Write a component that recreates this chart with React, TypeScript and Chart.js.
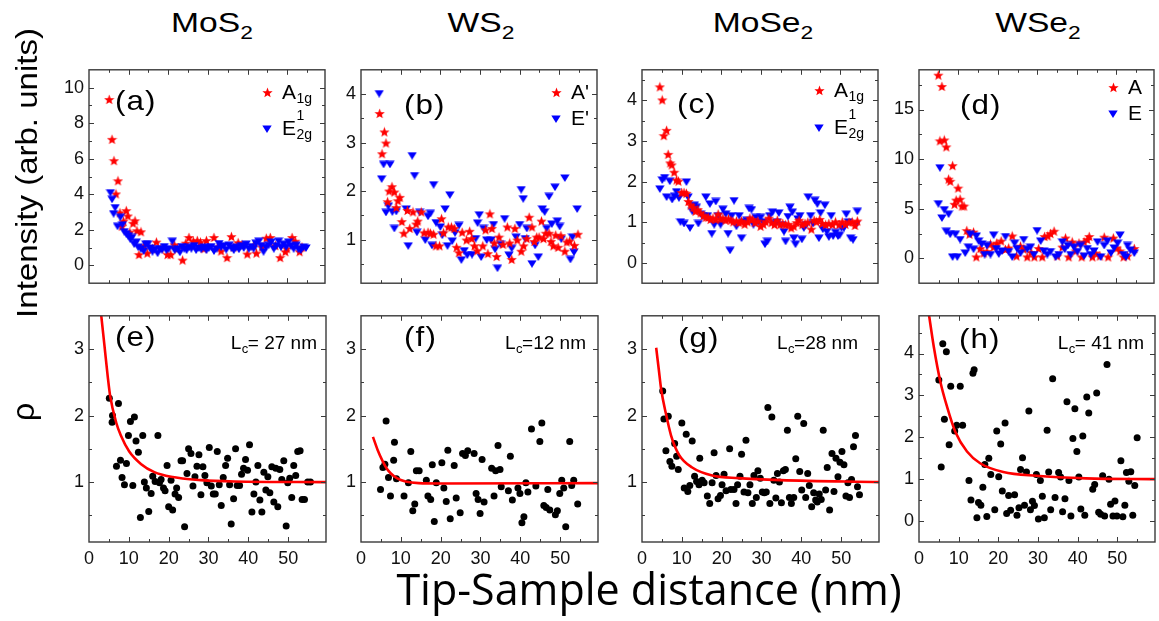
import { useEffect, useRef } from "react";
import { Chart, registerables } from "chart.js";

Chart.register(...registerables);

const FONT = '"Liberation Sans", Arial, Helvetica, sans-serif';

// ---------------- axis ticks ----------------
const X_TICKS = [0, 10, 20, 30, 40, 50];
const X_MINOR = [5, 15, 25, 35, 45, 55];
const X_MIN = 0;
const X_MAX = 59.5;

const MOS2_Y_TICKS = [0, 2, 4, 6, 8, 10];
const MOS2_Y_MINOR = [1, 3, 5, 7, 9];
const WS2_Y_TICKS = [1, 2, 3, 4];
const WS2_Y_MINOR = [0.5, 1.5, 2.5, 3.5];
const MOSE2_Y_TICKS = [0, 1, 2, 3, 4];
const MOSE2_Y_MINOR = [0.5, 1.5, 2.5, 3.5, 4.5];
const WSE2_Y_TICKS = [0, 5, 10, 15];
const WSE2_Y_MINOR = [2.5, 7.5, 12.5, 17.5];
const RHO_Y_TICKS = [1, 2, 3];
const RHO_Y_MINOR = [0.5, 1.5, 2.5];
const RHO_H_Y_TICKS = [0, 1, 2, 3, 4];
const RHO_H_Y_MINOR = [0.5, 1.5, 2.5, 3.5, 4.5];

// ---------------- data (x = tip-sample distance nm, y = value) ----------------
const MOS2_A1G = [[5.1,9.33],[5.8,7.09],[6.3,5.89],[6.8,4.02],[7.3,4.76],[7.8,2.96],[8.3,2.2],[8.7,2.49],[9.4,3.08],[9.8,2.78],[10.3,1.87],[11.1,2.37],[11.6,2.51],[12.1,1.95],[12.6,0.61],[13.1,1.89],[13.9,1.11],[14.7,0.69],[16.0,0.94],[17.0,1.31],[18.1,0.94],[19.8,0.61],[20.6,0.61],[21.5,1.16],[22.3,0.94],[23.6,0.3],[24.4,1.25],[25.2,1.57],[26.3,1.36],[27.3,1.4],[28.1,1.31],[29.0,0.94],[29.6,1.4],[31.5,1.57],[32.4,1.03],[33.3,0.81],[34.8,0.44],[35.9,1.62],[36.5,1.03],[37.6,1.28],[38.6,1.16],[39.9,0.64],[41.5,1.11],[42.2,0.69],[43.6,1.03],[44.7,1.53],[45.7,1.57],[47.0,1.11],[48.2,0.44],[49.5,0.77],[49.9,0.94],[51.2,1.57],[52.0,1.36],[53.1,0.77],[53.7,1.03]];
const MOS2_E2G = [[5.4,4.09],[5.8,3.72],[6.2,2.91],[6.6,3.25],[7.2,2.2],[7.9,2.71],[8.4,2.29],[8.9,1.9],[9.4,1.78],[9.9,1.67],[10.4,1.48],[10.8,1.57],[11.4,1.2],[11.9,1.31],[12.4,1.03],[13.1,0.94],[13.8,0.81],[14.3,1.2],[14.8,1.2],[15.4,0.98],[16.0,0.77],[16.6,0.91],[17.3,0.69],[17.8,0.94],[18.4,0.89],[19.0,1.06],[19.5,0.86],[20.1,0.94],[21.0,1.36],[21.6,0.86],[22.3,0.94],[22.9,0.74],[23.4,1.06],[24.0,0.94],[24.6,0.86],[25.2,1.03],[25.8,0.94],[26.5,1.11],[27.0,0.86],[27.7,0.98],[28.3,0.91],[29.0,1.03],[29.6,0.86],[30.2,0.98],[30.8,1.06],[31.5,0.81],[32.2,0.94],[32.8,1.23],[33.3,1.03],[34.0,1.11],[34.6,0.89],[35.3,1.14],[35.9,0.98],[36.5,0.86],[37.1,1.03],[37.8,0.91],[38.4,1.11],[39.0,0.98],[39.6,1.2],[40.3,0.94],[40.9,1.06],[41.5,0.94],[42.1,1.25],[42.8,1.36],[43.4,1.11],[44.0,0.77],[44.6,1.03],[45.3,1.14],[45.9,1.31],[46.6,0.94],[47.2,1.11],[47.8,1.36],[48.4,1.03],[49.1,1.2],[49.7,1.03],[50.3,1.31],[50.9,1.11],[51.6,0.94],[52.2,1.14],[52.8,0.91],[53.4,0.86],[54.1,1.03],[54.7,0.98]];

const WS2_A = [[4.7,3.6],[5.3,2.77],[5.9,3.22],[6.3,2.99],[6.7,1.78],[7.1,2.0],[7.8,2.09],[8.4,1.98],[8.9,1.66],[9.3,1.8],[9.8,1.87],[10.3,1.37],[10.8,1.13],[11.7,1.6],[12.3,1.23],[13.1,1.57],[13.9,1.32],[14.3,1.38],[15.2,1.57],[15.9,1.14],[16.9,1.15],[17.5,1.13],[18.3,1.11],[18.9,0.87],[19.8,0.87],[20.3,1.43],[20.8,1.14],[22.0,1.26],[22.8,1.26],[23.5,1.23],[24.1,0.84],[24.7,0.73],[25.5,1.15],[26.6,0.99],[27.4,1.17],[27.9,1.02],[28.6,0.87],[29.3,0.77],[30.7,0.87],[31.4,1.2],[32.0,0.71],[32.5,1.53],[33.0,1.23],[33.6,0.93],[34.2,0.65],[34.8,1.05],[35.8,0.9],[36.9,1.26],[37.5,0.93],[38.0,0.59],[38.8,1.23],[39.4,0.99],[40.4,0.76],[41.0,0.87],[41.8,1.02],[42.4,1.46],[43.1,1.26],[43.7,0.96],[44.3,1.05],[44.9,1.05],[45.5,1.38],[46.0,1.02],[46.6,1.13],[47.4,1.13],[47.9,0.96],[48.5,0.87],[49.1,1.09],[49.7,0.84],[50.4,1.08],[51.4,0.76],[51.9,0.95],[52.6,0.97],[53.8,0.88],[54.7,1.11]];
const WS2_E = [[4.6,4.01],[5.2,2.25],[5.7,2.55],[6.3,1.56],[6.9,1.69],[7.3,2.55],[7.9,1.57],[8.4,1.23],[8.9,1.58],[11.4,1.63],[11.9,0.87],[12.9,2.73],[13.5,2.32],[14.1,1.15],[14.8,1.56],[16.2,0.99],[16.9,1.48],[17.5,1.54],[17.9,0.88],[18.3,2.13],[18.9,1.35],[20.0,1.26],[20.5,1.09],[21.2,1.63],[21.8,0.87],[22.4,1.92],[23.0,0.97],[23.7,1.14],[24.7,1.29],[25.3,0.58],[26.0,0.77],[26.8,0.68],[28.0,0.69],[28.9,1.02],[29.4,1.34],[29.8,1.51],[30.3,0.64],[30.9,1.23],[31.7,0.99],[32.8,0.99],[33.4,1.31],[33.8,0.8],[34.4,0.41],[35.2,0.9],[36.2,1.43],[37.3,0.68],[38.0,0.82],[39.1,1.05],[40.0,1.31],[40.4,2.03],[40.9,1.84],[41.4,1.02],[41.8,1.23],[43.1,0.5],[43.9,0.88],[44.7,0.64],[45.7,1.63],[46.3,1.57],[46.8,1.23],[47.4,1.89],[48.1,1.32],[48.9,2.08],[49.5,1.38],[50.1,1.27],[50.5,1.01],[51.4,2.27],[52.8,0.59],[53.3,1.05],[53.7,0.74],[54.5,1.63]];

const MOSE2_A1G = [[4.5,4.33],[5.1,4.01],[5.5,3.13],[6.2,3.26],[6.6,2.67],[7.1,2.46],[7.5,2.41],[8.1,2.23],[8.7,2.04],[9.2,2.01],[10.0,1.73],[10.6,1.73],[11.2,1.71],[11.7,1.51],[12.3,1.42],[12.9,1.37],[13.5,1.27],[14.1,1.31],[14.8,1.23],[15.5,1.16],[16.1,1.12],[16.7,1.12],[17.3,1.07],[17.9,1.1],[18.6,1.07],[19.2,1.2],[19.8,1.08],[20.4,1.1],[21.1,1.05],[21.8,1.08],[22.4,1.05],[23.0,1.01],[23.8,1.03],[24.5,0.99],[25.1,1.03],[25.9,0.95],[26.6,1.01],[27.2,1.1],[27.8,1.07],[28.5,0.99],[29.2,1.03],[29.9,0.9],[30.6,0.95],[31.2,1.01],[32.0,1.1],[32.7,0.99],[33.4,0.94],[34.1,1.05],[34.8,0.94],[35.5,0.97],[36.2,0.94],[36.9,0.95],[37.6,0.86],[38.3,0.9],[39.0,0.99],[39.6,1.05],[40.4,0.94],[41.1,0.97],[41.8,1.0],[42.7,0.83],[43.4,1.05],[44.0,1.01],[44.8,1.07],[45.5,0.97],[46.3,0.94],[47.1,0.97],[48.0,0.94],[48.8,1.01],[49.7,0.94],[50.5,1.01],[51.3,0.95],[52.2,1.0],[53.0,1.01],[53.7,0.92],[54.3,1.03]];
const MOSE2_E2G = [[4.5,1.82],[5.1,2.04],[5.7,2.1],[6.2,1.62],[7.0,2.01],[7.6,1.56],[8.2,1.64],[8.7,1.75],[9.3,1.6],[9.7,1.01],[10.6,0.97],[11.2,1.99],[11.6,1.62],[12.1,0.86],[12.7,1.27],[13.2,1.42],[13.7,1.37],[14.2,0.97],[14.8,1.2],[15.4,1.16],[16.1,1.62],[16.5,1.16],[17.1,1.45],[17.6,0.72],[18.2,0.94],[18.6,1.51],[19.2,1.16],[19.8,0.94],[20.4,1.32],[21.1,1.2],[21.7,0.72],[22.2,0.31],[22.6,1.16],[23.2,1.53],[23.8,0.9],[24.5,1.16],[25.1,0.61],[25.7,1.01],[26.4,1.05],[27.0,1.34],[27.6,1.31],[28.1,0.94],[28.7,1.12],[29.3,1.01],[29.9,1.12],[30.5,1.01],[31.0,0.46],[31.6,0.53],[32.2,1.16],[32.9,1.25],[33.4,0.97],[34.0,1.01],[34.5,1.23],[35.2,0.94],[35.8,0.77],[36.2,0.53],[36.8,1.14],[37.3,1.37],[37.9,1.25],[38.3,0.61],[38.7,0.46],[39.3,1.08],[39.8,1.16],[40.3,0.58],[40.8,0.86],[41.4,0.94],[41.9,1.62],[42.5,1.16],[43.1,0.97],[43.6,1.54],[44.2,1.45],[44.6,0.61],[45.0,1.23],[45.6,0.83],[46.1,1.42],[46.6,0.77],[47.1,0.64],[47.7,1.16],[48.2,0.66],[48.8,0.75],[49.4,0.66],[49.8,0.68],[50.3,0.86],[50.9,0.86],[51.5,1.2],[52.0,1.01],[52.6,0.61],[53.2,0.57],[53.9,0.94],[54.3,1.27]];

const WSE2_A = [[4.9,18.46],[5.3,11.84],[5.8,17.32],[6.4,11.93],[6.9,11.23],[7.5,7.98],[7.9,7.77],[8.5,9.34],[9.0,5.45],[9.4,5.87],[9.9,7.08],[10.4,5.96],[10.9,5.27],[11.4,5.27],[12.1,2.8],[12.8,2.44],[13.8,2.65],[14.5,0.15],[15.5,0.99],[16.4,0.54],[17.2,0.69],[18.1,1.45],[18.9,1.14],[19.7,1.54],[20.8,1.75],[21.9,0.9],[22.7,1.05],[23.6,2.26],[24.7,0.24],[25.7,1.23],[26.5,0.93],[27.4,0.15],[28.4,0.6],[29.2,0.15],[30.3,0.99],[31.2,0.15],[31.8,2.2],[32.6,2.26],[33.3,2.5],[34.2,2.74],[35.0,0.24],[36.3,1.14],[37.1,2.05],[37.9,0.15],[38.8,1.66],[39.7,0.75],[40.5,1.54],[41.2,0.15],[41.8,1.66],[42.6,1.9],[43.1,2.2],[43.9,0.15],[44.7,0.54],[45.8,0.24],[46.9,2.14],[47.9,0.15],[49.2,2.05],[50.1,1.05],[50.9,0.75],[51.8,0.15],[52.8,0.24],[54.5,0.99]];
const WSE2_E = [[4.9,5.51],[5.3,9.13],[5.8,4.07],[6.4,4.91],[6.9,2.74],[7.5,4.46],[7.9,2.44],[8.5,0.15],[9.2,2.44],[9.7,0.15],[10.4,1.9],[11.7,0.54],[12.5,1.14],[13.0,2.44],[13.8,0.93],[14.5,2.26],[15.1,1.75],[15.9,1.45],[16.6,0.39],[17.2,1.3],[18.1,0.39],[18.9,2.35],[19.6,0.99],[20.2,0.45],[21.0,0.75],[21.9,2.2],[22.7,0.69],[23.6,0.15],[24.2,1.54],[24.8,0.99],[25.7,0.54],[26.5,1.9],[27.4,0.93],[28.2,1.14],[29.1,0.39],[29.9,2.8],[30.8,1.75],[31.6,0.75],[32.5,0.39],[33.3,0.69],[34.6,0.15],[35.4,0.39],[36.3,1.66],[36.9,0.93],[37.7,1.3],[38.4,0.39],[39.2,1.14],[40.1,0.69],[40.9,1.3],[41.8,0.24],[42.6,0.99],[43.5,0.39],[44.3,0.75],[45.2,1.66],[46.0,0.15],[46.9,1.3],[47.7,1.75],[48.6,0.54],[49.4,1.05],[50.3,1.54],[50.9,2.35],[51.8,0.39],[52.4,0.15],[52.8,1.3],[53.5,0.84],[54.5,0.54]];

const MOS2_RHO = [[5.1,2.26],[5.9,2.0],[5.8,1.9],[7.4,2.18],[6.9,1.24],[7.9,1.33],[8.3,1.07],[8.9,0.96],[9.4,1.28],[9.9,1.7],[10.4,1.91],[11.4,1.98],[11.0,0.95],[11.8,1.62],[12.4,1.45],[12.9,0.47],[13.5,1.7],[13.9,1.0],[14.4,0.91],[15.0,0.56],[15.6,0.83],[16.0,1.09],[16.6,1.01],[17.3,1.7],[17.7,0.99],[18.1,1.04],[18.7,0.91],[19.1,0.87],[19.6,1.25],[20.0,0.63],[20.6,1.03],[21.0,0.58],[21.6,0.82],[22.0,0.91],[22.5,0.77],[23.1,1.32],[23.5,1.32],[24.0,0.33],[24.6,1.13],[25.0,1.5],[25.6,1.43],[26.1,0.94],[26.6,1.08],[27.1,1.24],[27.6,1.41],[28.1,0.81],[28.6,1.23],[29.1,1.1],[29.6,0.99],[30.2,1.52],[30.7,0.94],[31.2,0.82],[31.7,0.82],[32.2,1.46],[32.7,0.96],[33.2,0.65],[33.7,1.07],[34.3,1.25],[34.8,1.36],[35.3,0.96],[35.7,0.37],[36.3,0.75],[36.8,1.5],[37.2,0.95],[37.8,0.95],[38.3,1.12],[38.8,1.21],[39.3,1.34],[39.8,1.18],[40.3,1.56],[40.9,0.55],[41.4,0.82],[41.9,1.0],[42.4,1.25],[42.9,0.73],[43.4,0.55],[43.9,1.15],[44.4,0.88],[44.9,1.08],[45.4,0.84],[45.9,1.23],[46.4,0.7],[46.9,1.21],[47.4,0.63],[47.9,1.19],[48.4,1.04],[48.9,1.32],[49.5,0.34],[49.9,0.99],[50.4,1.06],[50.9,0.77],[51.4,1.25],[51.9,1.1],[52.4,1.46],[53.0,1.47],[53.5,0.74],[54.1,0.74],[54.9,1.0],[55.6,1.0]];
const WS2_RHO = [[4.9,0.89],[5.5,1.22],[6.0,1.27],[6.3,1.92],[6.9,1.07],[7.4,0.79],[8.2,1.33],[8.4,1.6],[8.9,1.05],[10.8,0.79],[11.9,0.99],[12.5,1.46],[13.0,0.57],[13.5,0.67],[13.9,1.17],[14.6,1.17],[16.4,1.03],[16.8,0.79],[17.5,0.74],[17.9,1.26],[18.4,0.41],[18.9,0.99],[20.3,1.29],[20.8,0.91],[21.4,0.71],[21.8,1.48],[22.4,0.45],[23.4,1.25],[23.9,0.76],[24.9,0.54],[25.5,1.43],[26.2,1.4],[26.8,1.47],[28.4,1.43],[28.9,0.83],[29.4,0.74],[29.9,0.53],[30.4,1.34],[30.9,0.7],[32.8,1.21],[33.4,0.79],[33.8,1.17],[34.4,1.55],[34.9,1.19],[35.2,0.93],[37.0,0.87],[37.5,1.39],[38.0,0.73],[39.4,0.91],[39.9,0.83],[40.4,0.39],[40.9,0.48],[41.4,0.99],[41.9,0.85],[42.8,1.8],[43.9,0.94],[44.9,1.61],[45.4,1.89],[45.9,0.65],[46.5,0.62],[46.9,0.89],[47.4,0.58],[48.8,0.51],[49.3,0.57],[49.9,0.83],[50.4,1.03],[50.9,0.91],[51.4,0.33],[52.4,1.61],[52.9,0.95],[53.4,1.03],[54.4,0.67]];
const MOSE2_RHO = [[5.2,2.37],[5.5,1.95],[6.6,1.99],[6.0,1.47],[7.0,1.31],[7.5,1.24],[8.2,1.58],[8.7,1.39],[9.1,1.19],[10.0,1.89],[10.6,0.91],[11.1,1.72],[11.5,0.86],[12.0,0.95],[12.6,1.62],[13.2,1.09],[13.7,1.01],[14.3,0.96],[14.5,1.36],[15.1,1.03],[15.6,0.99],[16.4,0.79],[17.0,0.68],[17.6,0.99],[18.1,1.44],[18.6,1.1],[19.1,0.75],[19.7,0.8],[20.1,0.96],[20.6,1.12],[21.1,0.87],[22.0,1.5],[22.3,0.89],[23.1,0.89],[23.6,0.68],[24.0,0.96],[24.6,1.09],[25.0,1.42],[25.6,0.85],[26.1,1.63],[26.6,0.84],[27.1,0.96],[27.7,0.68],[28.1,1.1],[28.7,0.77],[29.1,1.17],[29.7,1.06],[30.2,0.85],[30.7,0.84],[31.2,0.85],[31.6,2.12],[32.1,0.68],[32.6,1.98],[33.1,1.03],[33.6,0.76],[34.0,1.13],[34.5,1.0],[35.0,0.69],[35.5,1.17],[36.0,1.19],[36.5,1.78],[37.0,0.77],[37.5,0.68],[38.1,0.77],[38.6,1.35],[39.1,1.99],[39.6,1.16],[40.1,0.88],[40.6,1.88],[41.1,0.77],[41.6,1.13],[42.0,0.95],[42.6,0.63],[43.1,0.84],[43.6,0.73],[44.0,0.7],[44.5,0.82],[45.0,0.74],[45.5,1.78],[46.1,0.88],[46.5,1.22],[47.1,0.58],[47.7,1.43],[48.2,0.86],[48.7,1.36],[49.2,1.08],[49.7,1.3],[50.2,1.46],[50.7,1.26],[51.2,0.79],[51.7,0.99],[52.1,0.77],[52.6,1.04],[53.1,1.53],[53.6,1.7],[54.1,0.93],[54.6,0.81]];
const WSE2_RHO = [[5.0,3.37],[5.6,1.29],[6.0,4.23],[6.4,2.43],[6.9,4.04],[7.6,1.82],[8.0,3.22],[9.0,2.15],[9.5,2.29],[10.4,3.22],[11.0,2.29],[12.6,0.97],[13.1,0.5],[13.6,3.53],[13.9,3.61],[14.6,0.08],[15.0,0.44],[15.6,0.38],[16.1,0.81],[16.6,1.35],[17.1,0.11],[17.6,1.5],[18.1,1.11],[19.1,0.27],[19.6,2.15],[20.1,1.06],[20.6,1.84],[21.0,0.72],[21.7,2.34],[22.1,0.18],[22.6,0.61],[23.1,0.26],[24.1,0.63],[24.7,0.14],[25.2,0.32],[25.6,1.23],[26.1,1.51],[26.6,0.38],[27.1,1.17],[27.7,2.63],[28.1,0.27],[28.6,0.47],[29.1,0.37],[29.6,1.11],[30.1,0.05],[30.6,0.97],[31.1,0.59],[31.6,0.08],[32.3,2.17],[32.7,1.17],[33.2,0.27],[33.7,3.4],[34.3,0.56],[35.2,1.16],[35.7,1.05],[36.2,0.22],[36.8,0.53],[37.3,2.85],[37.8,0.97],[38.3,0.12],[38.8,1.97],[39.3,2.68],[39.8,1.66],[40.3,1.05],[40.8,0.29],[41.3,2.03],[41.8,0.14],[42.3,2.96],[42.8,2.58],[43.8,0.76],[44.3,0.87],[44.8,3.06],[45.3,0.21],[45.8,0.16],[46.3,1.08],[46.8,0.12],[47.4,3.74],[47.9,1.0],[48.3,0.4],[48.9,0.12],[49.4,0.48],[49.9,0.12],[50.9,1.44],[51.4,0.1],[51.9,0.38],[52.3,1.16],[52.9,0.95],[53.4,1.18],[53.9,0.14],[54.4,0.85],[55.0,1.99]];

// fitted curves
const MOS2_FIT = [[2.9,3.6],[3.85,3.07],[4.7,2.59],[5.3,2.3],[6.8,1.9],[8.0,1.7],[10.1,1.46],[13.1,1.27],[16.4,1.15],[20.6,1.08],[28.1,1.03],[36.5,1.01],[59.5,1.0]];
const WS2_FIT = [[3.0,1.68],[4.2,1.48],[5.4,1.32],[6.5,1.2],[7.5,1.13],[9.0,1.06],[11.2,1.01],[14.5,0.985],[20.0,0.98],[59.5,0.985]];
const MOSE2_FIT = [[3.56,3.02],[4.2,2.7],[4.8,2.4],[6.0,2.03],[7.3,1.7],[9.3,1.41],[12.6,1.22],[17.6,1.1],[24.2,1.06],[34.8,1.03],[59.5,1.0]];
const WSE2_FIT = [[2.4,5.0],[3.75,4.15],[5.4,3.32],[7.1,2.72],[9.2,2.12],[12.1,1.66],[15.4,1.38],[21.25,1.17],[29.6,1.08],[42.1,1.02],[59.5,1.0]];

// ---------------- layout ----------------
const COL_L = [89, 361, 642, 919];
const COL_R = [327, 599, 880, 1156];
const ROW_T = [58, 304];
const ROW_B = [295, 542];
const PAD_L = 50, PAD_T = 4, PAD_R = 3, PAD_B_BOTTOM = 34, PAD_B_TOP = 4;

type Rich = { main: string; sub?: string; sup?: string; tail?: string };
type Series = { kind: "star" | "tri" | "dot" | "fit"; data: number[][] };
type Panel = {
  id: string; col: number; row: number;
  yMin: number; yMax: number; yTicks: number[]; yMinor: number[];
  series: Series[];
  tag: string; tagDx: number; tagBase: number;
  legend?: { marker: "star" | "tri"; label: Rich }[];
  legDx?: number; legRows?: number[];
  lc?: Rich; lcDx?: number; lcBase?: number;
};

const PANELS: Panel[] = [
  { id: "a", col: 0, row: 0, yMin: -1, yMax: 11, yTicks: MOS2_Y_TICKS, yMinor: MOS2_Y_MINOR,
    series: [{ kind: "tri", data: MOS2_E2G }, { kind: "star", data: MOS2_A1G }],
    tag: "(a)", tagDx: 26, tagBase: 40,
    legend: [{ marker: "star", label: { main: "A", sub: "1g" } }, { marker: "tri", label: { main: "E", sup: "1", sub: "2g" } }],
    legDx: 58, legRows: [29, 65] },
  { id: "b", col: 1, row: 0, yMin: 0.1, yMax: 4.5, yTicks: WS2_Y_TICKS, yMinor: WS2_Y_MINOR,
    series: [{ kind: "star", data: WS2_A }, { kind: "tri", data: WS2_E }],
    tag: "(b)", tagDx: 43, tagBase: 44,
    legend: [{ marker: "star", label: { main: "A'" } }, { marker: "tri", label: { main: "E'" } }],
    legDx: 41, legRows: [29, 55] },
  { id: "c", col: 2, row: 0, yMin: -0.5, yMax: 4.75, yTicks: MOSE2_Y_TICKS, yMinor: MOSE2_Y_MINOR,
    series: [{ kind: "star", data: MOSE2_A1G }, { kind: "tri", data: MOSE2_E2G }],
    tag: "(c)", tagDx: 35, tagBase: 43,
    legend: [{ marker: "star", label: { main: "A", sub: "1g" } }, { marker: "tri", label: { main: "E", sup: "1", sub: "2g" } }],
    legDx: 59, legRows: [27, 64] },
  { id: "d", col: 3, row: 0, yMin: -2.5, yMax: 19, yTicks: WSE2_Y_TICKS, yMinor: WSE2_Y_MINOR,
    series: [{ kind: "tri", data: WSE2_E }, { kind: "star", data: WSE2_A }],
    tag: "(d)", tagDx: 41, tagBase: 44,
    legend: [{ marker: "star", label: { main: "A" } }, { marker: "tri", label: { main: "E" } }],
    legDx: 41, legRows: [24, 50] },
  { id: "e", col: 0, row: 1, yMin: 0.1, yMax: 3.5, yTicks: RHO_Y_TICKS, yMinor: RHO_Y_MINOR,
    series: [{ kind: "fit", data: MOS2_FIT }, { kind: "dot", data: MOS2_RHO }],
    tag: "(e)", tagDx: 26, tagBase: 30, lc: { main: "L", sub: "c", tail: "= 27 nm" }, lcDx: 9, lcBase: 33 },
  { id: "f", col: 1, row: 1, yMin: 0.1, yMax: 3.5, yTicks: RHO_Y_TICKS, yMinor: RHO_Y_MINOR,
    series: [{ kind: "fit", data: WS2_FIT }, { kind: "dot", data: WS2_RHO }],
    tag: "(f)", tagDx: 43, tagBase: 30, lc: { main: "L", sub: "c", tail: "=12 nm" }, lcDx: 12, lcBase: 33 },
  { id: "g", col: 2, row: 1, yMin: 0.1, yMax: 3.5, yTicks: RHO_Y_TICKS, yMinor: RHO_Y_MINOR,
    series: [{ kind: "fit", data: MOSE2_FIT }, { kind: "dot", data: MOSE2_RHO }],
    tag: "(g)", tagDx: 36, tagBase: 31, lc: { main: "L", sub: "c", tail: "=28 nm" }, lcDx: 21, lcBase: 33 },
  { id: "h", col: 3, row: 1, yMin: -0.5, yMax: 4.9, yTicks: RHO_H_Y_TICKS, yMinor: RHO_H_Y_MINOR,
    series: [{ kind: "fit", data: WSE2_FIT }, { kind: "dot", data: WSE2_RHO }],
    tag: "(h)", tagDx: 40, tagBase: 32, lc: { main: "L", sub: "c", tail: "= 41 nm" }, lcDx: 11, lcBase: 33 },
];

const TITLES = [
  { base: "MoS", cx: 212 },
  { base: "WS", cx: 481 },
  { base: "MoSe", cx: 763 },
  { base: "WSe", cx: 1038 },
];

// ---------------- markers ----------------
function makeStar(): HTMLCanvasElement {
  const c = document.createElement("canvas");
  c.width = 11; c.height = 11;
  const g = c.getContext("2d")!;
  g.fillStyle = "#ff0000";
  g.beginPath();
  for (let i = 0; i < 10; i++) {
    const r = i % 2 === 0 ? 5.4 : 2.3;
    const a = -Math.PI / 2 + (i * Math.PI) / 5;
    const px = 5.5 + r * Math.cos(a), py = 6 + r * Math.sin(a);
    if (i === 0) g.moveTo(px, py); else g.lineTo(px, py);
  }
  g.closePath();
  g.fill();
  return c;
}
function makeTri(): HTMLCanvasElement {
  const c = document.createElement("canvas");
  c.width = 10; c.height = 8;
  const g = c.getContext("2d")!;
  g.fillStyle = "#0000ff";
  g.beginPath();
  g.moveTo(0.3, 0.5); g.lineTo(9.7, 0.5); g.lineTo(5, 7.9); g.closePath();
  g.fill();
  return c;
}

function drawRich(ctx: CanvasRenderingContext2D, r: Rich, x: number, y: number, size: number, align: "left" | "right") {
  const small = Math.round(size * 0.68);
  const big = `${size}px ${FONT}`, sm = `${small}px ${FONT}`;
  ctx.font = big;
  const wMain = ctx.measureText(r.main).width;
  const wTail = r.tail ? ctx.measureText(r.tail).width : 0;
  ctx.font = sm;
  const wSub = r.sub ? ctx.measureText(r.sub).width : 0;
  const wSup = r.sup ? ctx.measureText(r.sup).width : 0;
  const wScr = Math.max(wSub, wSup);
  const total = wMain + wScr + wTail;
  const x0 = align === "right" ? x - total : x;
  ctx.textAlign = "left";
  ctx.textBaseline = "alphabetic";
  ctx.font = big;
  ctx.fillText(r.main, x0, y);
  ctx.font = sm;
  if (r.sub) ctx.fillText(r.sub, x0 + wMain + 0.5, y + size * 0.22);
  if (r.sup) ctx.fillText(r.sup, x0 + wMain + 0.5, y - size * 0.72);
  if (r.tail) { ctx.font = big; ctx.fillText(r.tail, x0 + wMain + wScr, y); }
}

function overlayPlugin(p: Panel, star: HTMLCanvasElement, tri: HTMLCanvasElement) {
  return {
    id: "overlay_" + p.id,
    afterDraw(chart: any) {
      const { ctx, chartArea: a, scales } = chart;
      const xs = scales.x, ys = scales.y;
      ctx.save();
      ctx.strokeStyle = "#3a3a3a";
      ctx.lineWidth = 1;
      const xT = (vals: number[], len: number) => {
        for (const v of vals) {
          const px = Math.round(xs.getPixelForValue(v)) + 0.5;
          if (px <= a.left + 1 || px >= a.right - 1) continue;
          ctx.beginPath();
          ctx.moveTo(px, a.bottom); ctx.lineTo(px, a.bottom - len);
          ctx.moveTo(px, a.top); ctx.lineTo(px, a.top + len);
          ctx.stroke();
        }
      };
      const yT = (vals: number[], len: number) => {
        for (const v of vals) {
          const py = Math.round(ys.getPixelForValue(v)) + 0.5;
          if (py <= a.top + 1 || py >= a.bottom - 1) continue;
          ctx.beginPath();
          ctx.moveTo(a.left, py); ctx.lineTo(a.left + len, py);
          ctx.moveTo(a.right, py); ctx.lineTo(a.right - len, py);
          ctx.stroke();
        }
      };
      xT(X_TICKS, 5); xT(X_MINOR, 3);
      yT(p.yTicks, 5); yT(p.yMinor, 3);
      ctx.lineWidth = 1.4;
      ctx.strokeRect(a.left, a.top, a.right - a.left, a.bottom - a.top);

      ctx.fillStyle = "#000";
      ctx.save();
      ctx.font = `28px ${FONT}`;
      ctx.textAlign = "left";
      ctx.textBaseline = "alphabetic";
      ctx.translate(a.left + p.tagDx, a.top + p.tagBase);
      ctx.scale(1.12, 1);
      (ctx as any).letterSpacing = "1px";
      ctx.fillText(p.tag, 0, 0);
      (ctx as any).letterSpacing = "0px";
      ctx.restore();

      if (p.legend && p.legRows && p.legDx !== undefined) {
        p.legend.forEach((item, i) => {
          const base = a.top + p.legRows![i];
          const mx = a.right - p.legDx!;
          const img = item.marker === "star" ? star : tri;
          ctx.drawImage(img, Math.round(mx - img.width / 2), Math.round(base - 6 - img.height / 2));
          drawRich(ctx, item.label, mx + 15, base, 21, "left");
        });
      }
      if (p.lc && p.lcDx !== undefined && p.lcBase !== undefined) {
        drawRich(ctx, p.lc, a.right - p.lcDx, a.top + p.lcBase, 19, "right");
      }
      ctx.restore();
    },
  };
}

function PanelChart({ p }: { p: Panel }) {
  const ref = useRef<HTMLCanvasElement>(null);
  const bottom = p.row === 1;
  const L = COL_L[p.col], R = COL_R[p.col], T = ROW_T[p.row], B = ROW_B[p.row];
  const padB = bottom ? PAD_B_BOTTOM : PAD_B_TOP;
  const w = R - L + PAD_L + PAD_R;
  const h = B - T + PAD_T + padB;

  useEffect(() => {
    if (!ref.current) return;
    const star = makeStar();
    const tri = makeTri();
    const datasets = p.series.map((s) => {
      const data = s.data.map(([x, y]) => ({ x, y }));
      if (s.kind === "fit") {
        return { data, showLine: true, borderColor: "#ff0000", borderWidth: 2.6, pointRadius: 0, fill: false, cubicInterpolationMode: "monotone" as const };
      }
      if (s.kind === "dot") {
        return { data, showLine: false, pointRadius: 3.5, pointBackgroundColor: "#000", pointBorderWidth: 0, pointStyle: "circle" as const };
      }
      return { data, showLine: false, pointRadius: 5, pointBorderWidth: 0, pointStyle: s.kind === "star" ? star : tri };
    });
    const chart = new Chart(ref.current, {
      type: "scatter",
      data: { datasets: datasets as any },
      plugins: [overlayPlugin(p, star, tri)],
      options: {
        animation: false,
        responsive: false,
        events: [],
        layout: { padding: { left: 0, top: PAD_T, right: PAD_R, bottom: bottom ? 0 : PAD_B_TOP } },
        plugins: { legend: { display: false }, tooltip: { enabled: false } },
        scales: {
          x: {
            type: "linear", min: X_MIN, max: X_MAX,
            grid: { display: false, drawTicks: false }, border: { display: false },
            ticks: { display: bottom, padding: 6, color: "#111", font: { family: FONT, size: 18 }, callback: (v: any) => String(v), maxRotation: 0 },
            afterBuildTicks: (s: any) => { s.ticks = X_TICKS.map((v) => ({ value: v })); },
            afterFit: (s: any) => { s.height = bottom ? PAD_B_BOTTOM : 0; },
          },
          y: {
            type: "linear", min: p.yMin, max: p.yMax,
            grid: { display: false, drawTicks: false }, border: { display: false },
            ticks: { padding: 5, color: "#111", font: { family: FONT, size: 18 }, callback: (v: any) => String(v) },
            afterBuildTicks: (s: any) => { s.ticks = p.yTicks.map((v) => ({ value: v })); },
            afterFit: (s: any) => { s.width = PAD_L; },
          },
        },
      } as any,
    });
    return () => chart.destroy();
  }, []);

  return (
    <canvas
      ref={ref}
      width={w}
      height={h}
      style={{ position: "absolute", left: L - PAD_L, top: T - PAD_T, width: w, height: h }}
    />
  );
}

export default function App() {
  return (
    <div style={{ position: "fixed", left: 0, top: 0, width: 1159, height: 621, background: "#fff", overflow: "hidden", color: "#000" }}>
      {PANELS.map((p) => (
        <PanelChart key={p.id} p={p} />
      ))}
      {TITLES.map((t) => (
        <div
          key={t.base}
          style={{ position: "absolute", left: t.cx, top: 9, transform: "translateX(-50%) scaleX(1.2)", font: `28px ${FONT}`, lineHeight: "28px", whiteSpace: "nowrap" }}
        >
          {t.base}
          <span style={{ fontSize: 19, verticalAlign: -7, lineHeight: 0 }}>2</span>
        </div>
      ))}
      <div
        style={{ position: "absolute", left: 27, top: 173, transform: "translate(-50%, -50%) rotate(-90deg) scaleX(1.1)", font: `30px ${FONT}`, whiteSpace: "nowrap" }}
      >
        Intensity (arb. units)
      </div>
      <div
        style={{ position: "absolute", left: 23, top: 412, transform: "translate(-50%, -50%) rotate(-90deg)", font: `32px ${FONT}`, whiteSpace: "nowrap" }}
      >
        ρ
      </div>
      <div
        style={{ position: "absolute", left: 649, top: 567, transform: "translateX(-50%)", font: `43px "Open Sans", "Noto Sans", sans-serif`, lineHeight: "43px", whiteSpace: "nowrap" }}
      >
        Tip-Sample distance (nm)
      </div>
    </div>
  );
}
